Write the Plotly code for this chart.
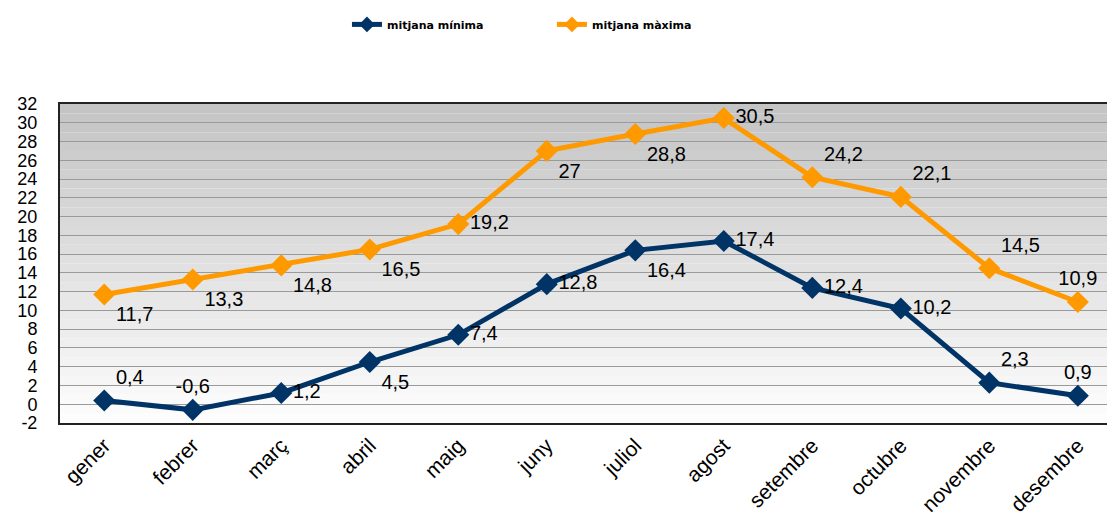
import plotly.graph_objects as go

months = ["gener", "febrer", "març", "abril", "maig", "juny", "juliol",
          "agost", "setembre", "octubre", "novembre", "desembre"]
min_vals = [0.4, -0.6, 1.2, 4.5, 7.4, 12.8, 16.4, 17.4, 12.4, 10.2, 2.3, 0.9]
max_vals = [11.7, 13.3, 14.8, 16.5, 19.2, 27, 28.8, 30.5, 24.2, 22.1, 14.5, 10.9]
y_ticks = list(range(-2, 33, 2))

min_pos = ["top right", "top center", "middle right", "bottom right", "middle right",
           "middle right", "bottom right", "middle right", "middle right", "middle right",
           "top right", "top center"]
max_pos = ["bottom right", "bottom right", "bottom right", "bottom right", "middle right",
           "bottom right", "bottom right", "middle right", "top right", "top right",
           "top right", "top center"]


def fmt(v):
    return ("%g" % v).replace(".", ",")


BLUE = "#003366"
ORANGE = "#ff9900"
LABEL_FONT = dict(family="Liberation Sans", size=20, color="#000000")

fig = go.Figure()
fig.add_trace(go.Scatter(
    x=months, y=min_vals, name="mitjana mínima", mode="lines+markers+text",
    line=dict(color=BLUE, width=5), marker=dict(symbol="diamond", size=17, color=BLUE),
    text=[fmt(v) for v in min_vals], textposition=min_pos, textfont=LABEL_FONT,
    cliponaxis=False,
))
fig.add_trace(go.Scatter(
    x=months, y=max_vals, name="mitjana màxima", mode="lines+markers+text",
    line=dict(color=ORANGE, width=5), marker=dict(symbol="diamond", size=17, color=ORANGE),
    text=[fmt(v) for v in max_vals], textposition=max_pos, textfont=LABEL_FONT,
    cliponaxis=False,
))

# stepped gray gradient background (top gray -> bottom white)
shapes = []
n = 34
for i in range(n):
    t = i / (n - 1)
    g = int(round(0xc4 + (0xfd - 0xc4) * t))
    col = "rgb(%d,%d,%d)" % (g, g, g)
    shapes.append(dict(type="rect", xref="paper", yref="paper",
                       x0=0, x1=1, y0=1 - (i + 1) / n, y1=1 - i / n,
                       fillcolor=col, line=dict(width=0), layer="below"))

# the page body adds an 8px margin, so the figure is 8px smaller than the window
fig.update_layout(
    width=1107, height=523,
    margin=dict(l=52, r=0, t=96, b=108, autoexpand=False),
    paper_bgcolor="white", plot_bgcolor="white",
    shapes=shapes,
    showlegend=True,
    legend=dict(orientation="h", x=0.272, y=1.295, xanchor="left", yanchor="top",
                font=dict(family="DejaVu Sans", size=11, color="#000000", weight="bold"),
                entrywidth=160, entrywidthmode="pixels", itemsizing="constant",
                bgcolor="rgba(0,0,0,0)"),
    font=dict(family="Liberation Sans", color="#000000"),
)
fig.update_xaxes(
    range=[-0.5, 11.42], tickangle=-45, automargin=False,
    tickfont=dict(family="Liberation Sans", size=21, color="#000000"),
    showgrid=False, showline=True, linecolor="#222222", linewidth=2, mirror=True,
    ticks="",
)
fig.update_yaxes(
    range=[-2, 32], tickvals=y_ticks, ticktext=[str(v) for v in y_ticks], automargin=False,
    tickfont=dict(family="Liberation Sans", size=18, color="#000000"),
    showgrid=True, gridcolor="#9a9a9a", gridwidth=1,
    showline=True, linecolor="#222222", linewidth=2,
    zeroline=False, ticks="", ticklabelstandoff=17,
)

fig.write_html("out.html")
